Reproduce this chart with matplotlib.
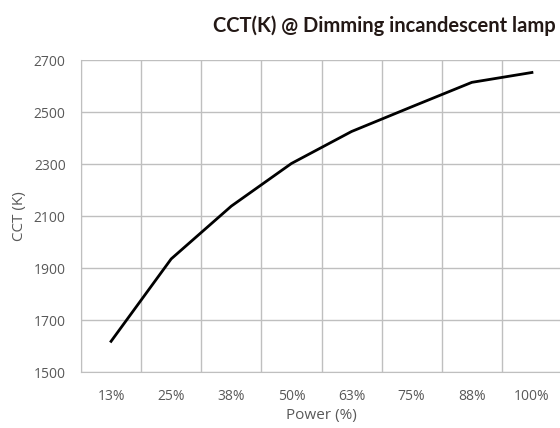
import matplotlib
matplotlib.use("Agg")
import matplotlib.pyplot as plt

# DATA
power = ["13%", "25%", "38%", "50%", "63%", "75%", "88%", "100%"]
cct = [1618, 1935, 2138, 2302, 2425, 2520, 2614, 2652]
y_ticks = [1500, 1700, 1900, 2100, 2300, 2500, 2700]

plt.rcParams['font.family'] = ['Open Sans', 'DejaVu Sans']

fig = plt.figure(figsize=(5.6, 4.28), dpi=100)
ax = fig.add_axes([81/560, 1-372/428, 481/560, 312/428])

x = [i + 0.5 for i in range(len(power))]
ax.plot(x, cct, color="black", linewidth=2)

ax.set_xlim(0, len(power))
ax.set_ylim(1500, 2700)
ax.set_yticks(y_ticks)
ax.set_xticks(x)
ax.set_xticklabels(power)
ax.set_xticks(range(len(power) + 1), minor=True)

ax.grid(True, which="minor", axis="x", color="#bfbfbf", linewidth=1)
ax.grid(True, which="major", axis="y", color="#bfbfbf", linewidth=1)
ax.set_axisbelow(True)

for s in ["top", "right"]:
    ax.spines[s].set_visible(False)
for s in ["left", "bottom"]:
    ax.spines[s].set_color("#bfbfbf")

ax.tick_params(which="both", length=0, colors="#595959", labelsize=10)
ax.tick_params(axis="x", pad=12)
ax.tick_params(axis="y", pad=11)

ax.set_xlabel("Power (%)", color="#595959", fontsize=11, labelpad=3)
ax.set_ylabel("CCT (K)", color="#595959", fontsize=11, labelpad=5)

# title
fig.text(384/560, 1-26/428, "CCT(K) @ Dimming incandescent lamp", ha="center", va="center",
         fontsize=14.5, fontweight="bold", color="#231815",
         family=["Lato", "DejaVu Sans"])

plt.savefig("out.png", dpi=100)
